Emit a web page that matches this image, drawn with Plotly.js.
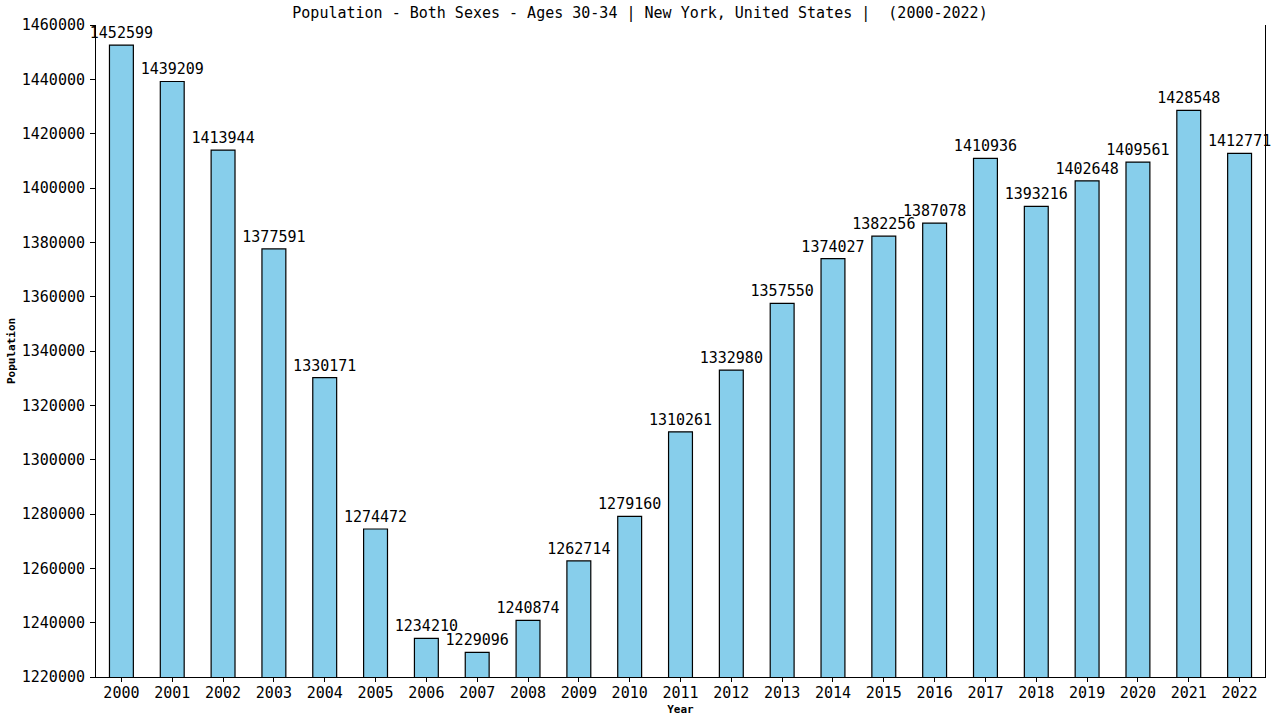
<!DOCTYPE html>
<html><head><meta charset="utf-8">
<script src="https://cdn.plot.ly/plotly-3.0.1.min.js"></script>
<style>body{margin:0;background:#fff}#c{width:1280px;height:720px}</style>
</head><body><div id="c"></div>
<script>
const years = ["2000","2001","2002","2003","2004","2005","2006","2007","2008","2009","2010","2011","2012","2013","2014","2015","2016","2017","2018","2019","2020","2021","2022"];
const population = [1452599,1439209,1413944,1377591,1330171,1274472,1234210,1229096,1240874,1262714,1279160,1310261,1332980,1357550,1374027,1382256,1387078,1410936,1393216,1402648,1409561,1428548,1412771];
const yTicks = [1220000,1240000,1260000,1280000,1300000,1320000,1340000,1360000,1380000,1400000,1420000,1440000,1460000];
const font = "DejaVu Sans Mono, monospace";
Plotly.newPlot('c', [{
  type: 'bar', x: years, y: population,
  text: population.map(String), textposition: 'outside', cliponaxis: false, constraintext: 'none',
  textfont: {family: font, size: 15, color: '#000'},
  marker: {color: '#87CEEB', line: {color: '#000', width: 1.2}},
  width: 0.47
}], {
  width: 1280, height: 720,
  margin: {l: 96, r: 15, t: 25, b: 43},
  paper_bgcolor: '#fff', plot_bgcolor: '#fff',
  showlegend: false,
  uniformtext: {mode: false},
  title: {text: 'Population - Both Sexes - Ages 30-34 | New York, United States |  (2000-2022)', x: 0.5, xanchor: 'center', y: 0.982, yanchor: 'middle', font: {family: font, size: 15, color: '#000'}},
  xaxis: {type: 'category', range: [-0.5, 22.5], showgrid: false, showline: true, linecolor: '#000', linewidth: 1, ticks: 'outside', ticklen: 4, tickcolor: '#000', ticklabelstandoff: -2, tickfont: {family: font, size: 15, color: '#000'}, title: {text: '<b>Year</b>', font: {family: font, size: 11, color: '#000'}, standoff: 4}},
  yaxis: {range: [1220000, 1460000], tickvals: yTicks, ticktext: yTicks.map(String), showgrid: false, zeroline: false, showline: true, mirror: true, linecolor: '#000', linewidth: 1, ticks: 'outside', ticklen: 5, tickcolor: '#000', ticklabelstandoff: 2, tickfont: {family: font, size: 15, color: '#000'}, title: {text: '<b>Population</b>', font: {family: font, size: 11, color: '#000'}, standoff: 3}},
  bargap: 0.53
}, {displayModeBar: false, staticPlot: true});
</script></body></html>
